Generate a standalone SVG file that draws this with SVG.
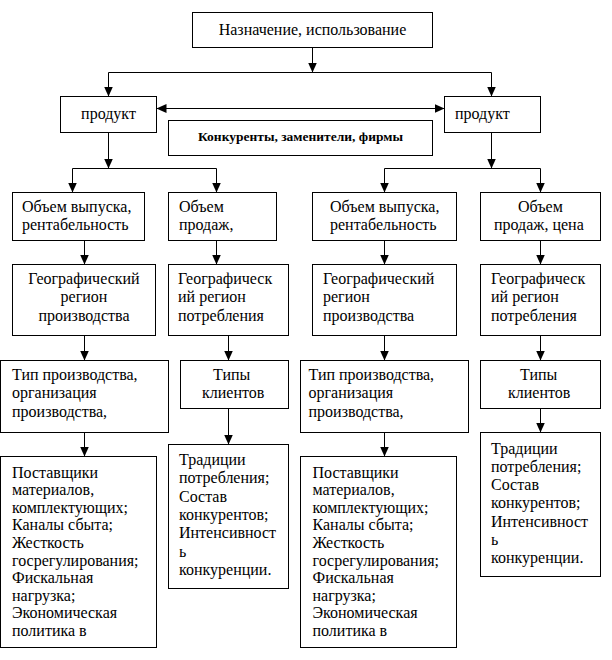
<svg xmlns="http://www.w3.org/2000/svg" width="612" height="660" viewBox="0 0 612 660">
<style>
.b{fill:#fff;stroke:#000;stroke-width:1}
.t{font-family:"Liberation Serif","Times New Roman",serif;font-size:16px;fill:#000}
.k{font-family:"Liberation Serif","Times New Roman",serif;font-size:13.5px;font-weight:bold;fill:#000}
.c{fill:none;stroke:#000;stroke-width:1}
.a{marker-end:url(#ah)}
</style>
<defs>
<marker id="ah" markerUnits="userSpaceOnUse" markerWidth="10" markerHeight="9" refX="10" refY="4.5" orient="auto-start-reverse"><path d="M0,0 L10,4.5 L0,9 z" fill="#000"/></marker>
</defs>
<rect x="0" y="0" width="612" height="660" fill="#fff"/>
<g id="connectors">
<path class="c a" d="M312.5,47.5 V72.5"/>
<path class="c" d="M108.5,72.5 H491.5"/>
<path class="c a" d="M108.5,72.5 V96.5"/>
<path class="c a" d="M491.5,72.5 V96.5"/>
<path class="c a" d="M156.5,108.5 H444.5" marker-start="url(#ah)"/>
<path class="c a" d="M108.5,132.5 V168.5"/>
<path class="c" d="M72.5,168.5 H216.5"/>
<path class="c a" d="M72.5,168.5 V192.5"/>
<path class="c a" d="M216.5,168.5 V192.5"/>
<path class="c a" d="M491.5,132.5 V168.5"/>
<path class="c" d="M384.5,168.5 H540.5"/>
<path class="c a" d="M384.5,168.5 V192.5"/>
<path class="c a" d="M540.5,168.5 V192.5"/>
<path class="c a" d="M84.5,240.5 V264.5"/>
<path class="c a" d="M216.5,240.5 V264.5"/>
<path class="c a" d="M384.5,240.5 V264.5"/>
<path class="c a" d="M540.5,240.5 V264.5"/>
<path class="c a" d="M84.5,335.5 V360.5"/>
<path class="c a" d="M228.5,335.5 V360.5"/>
<path class="c a" d="M384.5,335.5 V360.5"/>
<path class="c a" d="M540.5,335.5 V360.5"/>
<path class="c a" d="M84.5,432.5 V456.5"/>
<path class="c a" d="M228.5,408.5 V444.5"/>
<path class="c a" d="M384.5,432.5 V456.5"/>
<path class="c a" d="M540.5,408.5 V432.5"/>
</g>
<g id="top">
<rect class="b" x="192.5" y="12.5" width="240" height="35"/>
<text class="t" x="312.5" y="35" text-anchor="middle">Назначение, использование</text>
</g>
<g id="prodL">
<rect class="b" x="60.5" y="96.5" width="96" height="36"/>
<text class="t" x="108.5" y="119" text-anchor="middle">продукт</text>
</g>
<g id="prodR">
<rect class="b" x="444.5" y="96.5" width="96" height="36"/>
<text class="t" x="455" y="119">продукт</text>
</g>
<g id="konk">
<rect class="b" x="168.5" y="120.5" width="264" height="35"/>
<text class="k" x="300.5" y="141" text-anchor="middle">Конкуренты, заменители, фирмы</text>
</g>
<g id="ovL">
<rect class="b" x="12.5" y="192.5" width="132" height="48"/>
<text class="t" x="22" y="212">Объем выпуска,</text>
<text class="t" x="22" y="230">рентабельность</text>
</g>
<g id="opL">
<rect class="b" x="168.5" y="192.5" width="108" height="48"/>
<text class="t" x="179" y="212">Объем</text>
<text class="t" x="179" y="230">продаж,</text>
</g>
<g id="ovR">
<rect class="b" x="312.5" y="192.5" width="144" height="48"/>
<text class="t" x="330" y="212">Объем выпуска,</text>
<text class="t" x="330" y="230">рентабельность</text>
</g>
<g id="opR">
<rect class="b" x="480.5" y="192.5" width="120" height="48"/>
<text class="t" x="518" y="212">Объем</text>
<text class="t" x="494" y="230">продаж, цена</text>
</g>
<g id="g1">
<rect class="b" x="12.5" y="264.5" width="143" height="71"/>
<text class="t" x="84" y="284" text-anchor="middle">Географический</text>
<text class="t" x="84" y="302.4" text-anchor="middle">регион</text>
<text class="t" x="84" y="320.8" text-anchor="middle">производства</text>
</g>
<g id="g2">
<rect class="b" x="168.5" y="264.5" width="120" height="71"/>
<text class="t" x="178" y="284">Географическ</text>
<text class="t" x="178" y="302.4">ий регион</text>
<text class="t" x="178" y="320.8">потребления</text>
</g>
<g id="g3">
<rect class="b" x="312.5" y="264.5" width="144" height="71"/>
<text class="t" x="323" y="284">Географический</text>
<text class="t" x="323" y="302.4">регион</text>
<text class="t" x="323" y="320.8">производства</text>
</g>
<g id="g4">
<rect class="b" x="480.5" y="264.5" width="120" height="71"/>
<text class="t" x="491" y="284">Географическ</text>
<text class="t" x="491" y="302.4">ий регион</text>
<text class="t" x="491" y="320.8">потребления</text>
</g>
<g id="t1">
<rect class="b" x="0.5" y="360.5" width="168" height="72"/>
<text class="t" x="12" y="380">Тип производства,</text>
<text class="t" x="12" y="398.4">организация</text>
<text class="t" x="12" y="416.8">производства,</text>
</g>
<g id="k1">
<rect class="b" x="180.5" y="360.5" width="108" height="48"/>
<text class="t" x="213" y="380">Типы</text>
<text class="t" x="202" y="398.4">клиентов</text>
</g>
<g id="t2">
<rect class="b" x="300.5" y="360.5" width="168" height="72"/>
<text class="t" x="308.5" y="380">Тип производства,</text>
<text class="t" x="308.5" y="398.4">организация</text>
<text class="t" x="308.5" y="416.8">производства,</text>
</g>
<g id="k2">
<rect class="b" x="480.5" y="360.5" width="120" height="48"/>
<text class="t" x="520" y="380">Типы</text>
<text class="t" x="508" y="398.4">клиентов</text>
</g>
<g id="p1">
<rect class="b" x="0.5" y="456.5" width="156" height="191"/>
<text class="t" x="12" y="477.5">Поставщики</text>
<text class="t" x="12" y="495.1">материалов,</text>
<text class="t" x="12" y="512.7">комплектующих;</text>
<text class="t" x="12" y="530.3">Каналы сбыта;</text>
<text class="t" x="12" y="547.9">Жесткость</text>
<text class="t" x="12" y="565.5">госрегулирования;</text>
<text class="t" x="12" y="583.1">Фискальная</text>
<text class="t" x="12" y="600.7">нагрузка;</text>
<text class="t" x="12" y="618.3">Экономическая</text>
<text class="t" x="12" y="635.9">политика в</text>
</g>
<g id="tr1">
<rect class="b" x="168.5" y="444.5" width="120" height="144"/>
<text class="t" x="179" y="465">Традиции</text>
<text class="t" x="179" y="483.3">потребления;</text>
<text class="t" x="179" y="501.6">Состав</text>
<text class="t" x="179" y="519.9">конкурентов;</text>
<text class="t" x="179" y="538.2">Интенсивност</text>
<text class="t" x="179" y="556.5">ь</text>
<text class="t" x="179" y="574.8">конкуренции.</text>
</g>
<g id="p2">
<rect class="b" x="300.5" y="456.5" width="156" height="191"/>
<text class="t" x="312.5" y="477.5">Поставщики</text>
<text class="t" x="312.5" y="495.1">материалов,</text>
<text class="t" x="312.5" y="512.7">комплектующих;</text>
<text class="t" x="312.5" y="530.3">Каналы сбыта;</text>
<text class="t" x="312.5" y="547.9">Жесткость</text>
<text class="t" x="312.5" y="565.5">госрегулирования;</text>
<text class="t" x="312.5" y="583.1">Фискальная</text>
<text class="t" x="312.5" y="600.7">нагрузка;</text>
<text class="t" x="312.5" y="618.3">Экономическая</text>
<text class="t" x="312.5" y="635.9">политика в</text>
</g>
<g id="tr2">
<rect class="b" x="480.5" y="432.5" width="120" height="144"/>
<text class="t" x="491" y="453.5">Традиции</text>
<text class="t" x="491" y="471.8">потребления;</text>
<text class="t" x="491" y="490.1">Состав</text>
<text class="t" x="491" y="508.4">конкурентов;</text>
<text class="t" x="491" y="526.7">Интенсивност</text>
<text class="t" x="491" y="545">ь</text>
<text class="t" x="491" y="563.3">конкуренции.</text>
</g>
</svg>
